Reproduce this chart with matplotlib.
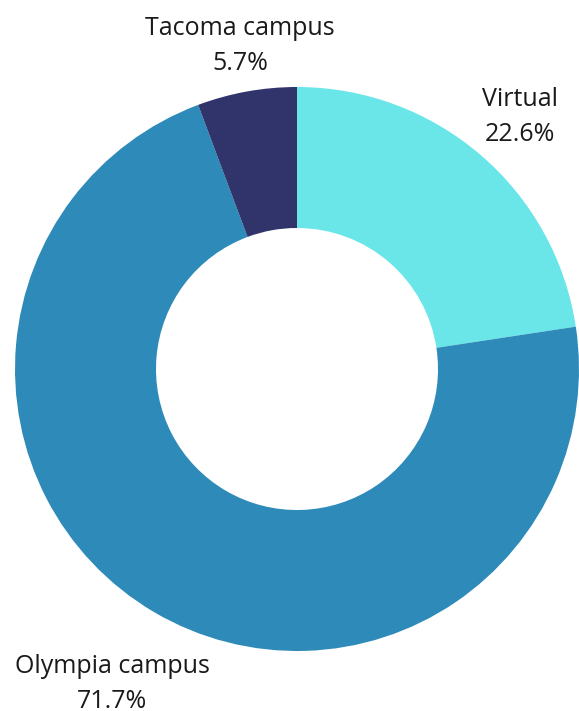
import matplotlib.pyplot as plt

labels = ["Virtual", "Olympia campus", "Tacoma campus"]
shares = [22.6, 71.7, 5.7]
colors = ["#6ae5e8", "#2e8bb9", "#31346b"]

W, H = 579, 711
fig = plt.figure(figsize=(W / 100, H / 100), dpi=100)
ax = fig.add_axes([0, 0, 1, 1])

# donut centred at pixel (297, 369)
ax.pie(shares, colors=colors, startangle=90, counterclock=False,
       center=(297, H - 369), radius=282, frame=True,
       wedgeprops=dict(width=141, linewidth=0))
ax.set_xlim(0, W)
ax.set_ylim(0, H)
ax.set_aspect('equal')
ax.axis('off')

# label anchor (pixel x, baseline y of first line)
pos = [(520, 106), (112, 673), (240, 35)]
for lab, val, (px, py) in zip(labels, shares, pos):
    ax.text(px, H - py, lab, ha='center', va='baseline',
            fontsize=18, family='Open Sans', color='#1a1a1a')
    ax.text(px, H - py - 35, f"{val}%", ha='center', va='baseline',
            fontsize=18, family='Open Sans', color='#1a1a1a')

fig.savefig("out.png", dpi=100)
